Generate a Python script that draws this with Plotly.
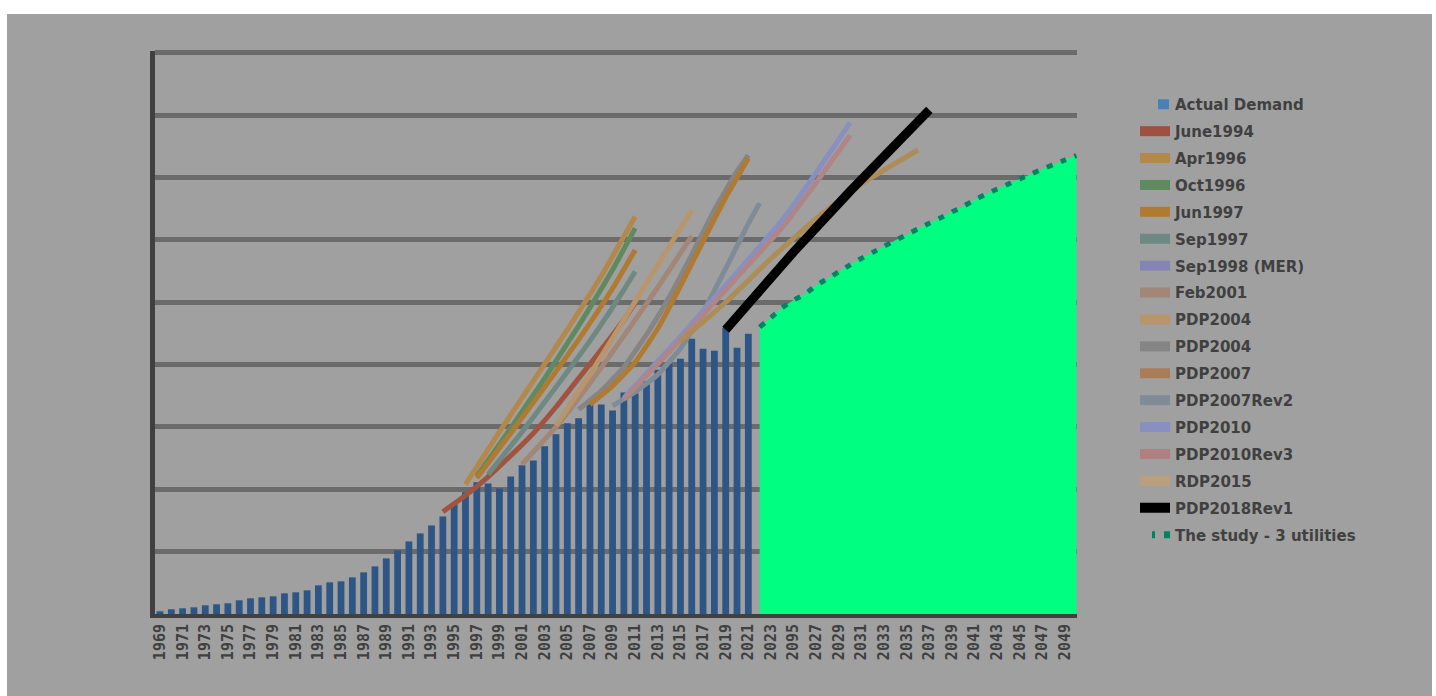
import plotly.graph_objects as go

# ---------------- data ----------------
actual_years = list(range(1969, 2022))
actual_demand = [216, 376, 456, 536, 697, 777, 857, 1097, 1257, 1337, 1417, 1658, 1738, 1898,
                 2298, 2538, 2618, 2939, 3339, 3820, 4460, 5101, 5822, 6463, 7103, 7824,
                 8865, 9770, 10571, 10466, 10066, 11027, 11932, 12308, 13454, 14414, 15295,
                 15696, 16817, 16793, 16312, 17754, 17674, 18659, 19597, 20077, 20478, 22080,
                 21277, 21117, 22935, 21357, 22478]

study_years = list(range(2022, 2051))
study_values = [23000, 23760, 24560, 25160, 25640, 26360, 26880, 27440, 28000, 28520, 29000,
                29490, 29970, 30410, 30890, 31330, 31770, 32250, 32690, 33210, 33650, 34090,
                34490, 34890, 35290, 35690, 36050, 36410, 36770]

june1994_x = [1994, 1996, 1998, 2000, 2002, 2004, 2006, 2008, 2010, 2011]
june1994_y = [8200, 9500, 11000, 12700, 14500, 16600, 18900, 21200, 23600, 24950]
apr1996_x = [1996, 1999, 2002, 2005, 2008, 2011]
apr1996_y = [10400, 14600, 18700, 22800, 27100, 31870]
oct1996_x = [1997, 2000, 2003, 2006, 2009, 2011]
oct1996_y = [11050, 14900, 18900, 23100, 27600, 30940]
jun1997_x = [1997, 2000, 2003, 2006, 2009, 2011]
jun1997_y = [10900, 14500, 18200, 22000, 26100, 29200]
sep1997_x = [1998, 2001, 2004, 2007, 2010, 2011]
sep1997_y = [11200, 14600, 18200, 21900, 26000, 27470]
sep1998_x = []
sep1998_y = []
feb2001_x = [2001, 2004, 2007, 2010, 2013, 2016]
feb2001_y = [12000, 15000, 18500, 22300, 26200, 30300]
pdp2004a_x = [2004, 2007, 2010, 2013, 2016]
pdp2004a_y = [15100, 19200, 23600, 28000, 32400]
pdp2004b_x = [2006, 2008, 2010, 2012, 2014, 2016, 2018, 2020, 2021]
pdp2004b_y = [16400, 17900, 19800, 22400, 25400, 28800, 32400, 35500, 36800]
pdp2007_x = [2007, 2009, 2011, 2013, 2015, 2017, 2019, 2021]
pdp2007_y = [16800, 18300, 20200, 22900, 26300, 29900, 33400, 36550]
pdp2007r2_x = [2009, 2011, 2013, 2015, 2017, 2019, 2021, 2022]
pdp2007r2_y = [16700, 17800, 19200, 21300, 24200, 27700, 31300, 32950]
pdp2010_x = [2010, 2015, 2020, 2024, 2027, 2030]
pdp2010_y = [17330, 22260, 27400, 31600, 35400, 39400]
pdp2010r3_x = [2010, 2015, 2020, 2024, 2027, 2030]
pdp2010r3_y = [17200, 22000, 27000, 31000, 34600, 38400]
rdp2015_x = [2015, 2019, 2023, 2027, 2031, 2036]
rdp2015_y = [21860, 25000, 28500, 31700, 34500, 37210]
pdp2018r1_x = [2019, 2025, 2030, 2037]
pdp2018r1_y = [22800, 29030, 33910, 40420]

tick_years = list(range(1969, 2050, 2))
tick_labels = ["1969", "1971", "1973", "1975", "1977", "1979", "1981", "1983", "1985", "1987",
               "1989", "1991", "1993", "1995", "1997", "1999", "2001", "2003", "2005", "2007",
               "2009", "2011", "2013", "2015", "2017", "2019", "2021", "2023", "2095", "2027",
               "2029", "2031", "2033", "2035", "2037", "2039", "2041", "2043", "2045", "2047",
               "2049"]

series = [
    ("June1994", june1994_x, june1994_y, "#a0533f"),
    ("Apr1996", apr1996_x, apr1996_y, "#b4874a"),
    ("Oct1996", oct1996_x, oct1996_y, "#5f8a60"),
    ("Jun1997", jun1997_x, jun1997_y, "#b07a30"),
    ("Sep1997", sep1997_x, sep1997_y, "#6e8981"),
    ("Sep1998 (MER)", sep1998_x, sep1998_y, "#8585b5"),
    ("Feb2001", feb2001_x, feb2001_y, "#a38676"),
    ("PDP2004", pdp2004a_x, pdp2004a_y, "#b8956a"),
    ("PDP2004", pdp2004b_x, pdp2004b_y, "#858585"),
    ("PDP2007", pdp2007_x, pdp2007_y, "#b07a30"),
    ("PDP2007Rev2", pdp2007r2_x, pdp2007r2_y, "#7f8c98"),
    ("PDP2010", pdp2010_x, pdp2010_y, "#8890c2"),
    ("PDP2010Rev3", pdp2010r3_x, pdp2010r3_y, "#b08585"),
    ("RDP2015", rdp2015_x, rdp2015_y, "#ad8c55"),
]
legend_colors = {"June1994": "#a0503f", "Apr1996": "#b4874a", "Oct1996": "#5f8a60",
                 "Jun1997": "#b07a30", "Sep1997": "#6e8981", "Sep1998 (MER)": "#8585b5",
                 "Feb2001": "#a38676", "PDP2007": "#aa7d5a", "PDP2007Rev2": "#7f8c98",
                 "PDP2010": "#8890c2", "PDP2010Rev3": "#b08080", "RDP2015": "#b8a07e"}

# ---------------- geometry ----------------
L, R_PX, T, B_PX = 155, 1077, 51, 614
W, H = 1436, 696
pw, ph = R_PX - L, B_PX - T
def px2x(px):
    return (px - L) / pw
def py2y(py):
    return (B_PX - py) / ph

fig = go.Figure()

fig.add_trace(go.Bar(x=actual_years, y=actual_demand, width=0.6,
                     marker=dict(color="#2d5585", line=dict(width=0)),
                     name="Actual Demand", showlegend=False))

fig.add_trace(go.Scatter(x=study_years, y=study_values, mode="lines",
                         line=dict(width=0, color="#00ff80", shape="spline", smoothing=0.5),
                         fill="tozeroy", fillcolor="#00ff80", showlegend=False, hoverinfo="skip"))

for name, xs, ys, col in series:
    if xs:
        fig.add_trace(go.Scatter(x=xs, y=ys, mode="lines",
                                 line=dict(color=col, width=5, shape="spline", smoothing=0.4),
                                 name=name, showlegend=False))

fig.add_trace(go.Scatter(x=pdp2018r1_x, y=pdp2018r1_y, mode="lines",
                         line=dict(color="#000000", width=9), name="PDP2018Rev1", showlegend=False))

fig.add_trace(go.Scatter(x=study_years, y=study_values, mode="lines",
                         line=dict(color="#008264", width=5, dash="6px,9px", shape="spline", smoothing=0.5),
                         name="The study - 3 utilities", showlegend=False))

# legend entries
fig.add_trace(go.Scatter(x=[None], y=[None], mode="lines",
                         line=dict(color="#4a80b8", width=11, dash="0px,18px,11px,100px"),
                         name="Actual Demand", legendgroup="g0"))
i = 1
for name, xs, ys, col in series:
    c = legend_colors.get(name, col)
    fig.add_trace(go.Scatter(x=[None], y=[None], mode="lines", line=dict(color=c, width=11),
                             name=name, legendgroup="g%d" % i))
    i += 1
fig.add_trace(go.Scatter(x=[None], y=[None], mode="lines", line=dict(color="#000000", width=11),
                         name="PDP2018Rev1", legendgroup="g%d" % i))
i += 1
fig.add_trace(go.Scatter(x=[None], y=[None], mode="lines",
                         line=dict(color="#008264", width=7, dash="0px,12px,3px,9px,7px,100px"),
                         name="The study - 3 utilities", legendgroup="g%d" % i))

fig.add_shape(type="rect", xref="paper", yref="paper", layer="below",
              x0=px2x(7), x1=px2x(1432), y0=py2y(14), y1=py2y(700),
              fillcolor="#a0a0a0", line=dict(width=0))

fig.update_layout(
    width=W, height=H,
    margin=dict(l=L, r=W - R_PX, t=T, b=H - B_PX, pad=0),
    paper_bgcolor="#ffffff", plot_bgcolor="rgba(0,0,0,0)",
    showlegend=True,
    legend=dict(x=px2x(1135), y=py2y(88), xanchor="left", yanchor="top",
                bgcolor="rgba(0,0,0,0)", traceorder="grouped", tracegroupgap=4.4,
                font=dict(family="DejaVu Sans", size=15, color="#404040", weight="bold"),
                itemwidth=30),
    xaxis=dict(range=[1968.558, 2050.05], tickmode="array", tickvals=tick_years,
               ticktext=tick_labels, tickangle=-90, showgrid=False, zeroline=False,
               showline=True, linecolor="#404040", linewidth=4, ticks="",
               tickfont=dict(family="DejaVu Sans Mono", size=15, color="#404040", weight="bold")),
    yaxis=dict(range=[0, 45150], dtick=5000, showticklabels=False, showgrid=True,
               gridcolor="#6b6b6b", gridwidth=5, zeroline=False, showline=True,
               linecolor="#404040", linewidth=5, ticks=""),
)

fig.write_html("out.html")
